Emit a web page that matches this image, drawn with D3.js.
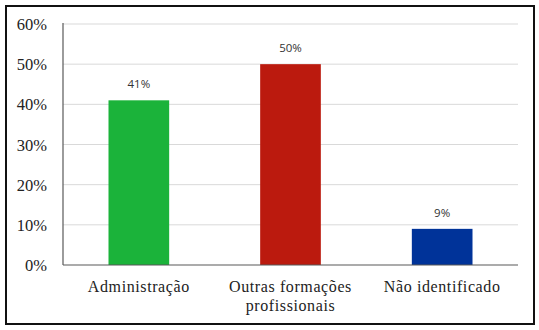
<!DOCTYPE html>
<html><head><meta charset="utf-8">
<script src="https://cdn.jsdelivr.net/npm/d3@7"></script>
</head><body style="margin:0">
<script>
const categories = [["Administração"], ["Outras formações", "profissionais"], ["Não identificado"]];
const values = [41, 50, 9];
const colors = ["#1bb33a", "#bb1a0e", "#003399"];
const yTicks = [0, 10, 20, 30, 40, 50, 60];

const SERIF_FONT = "Liberation Serif";
const SANS_FONT = "Open Sans";
const svg = d3.select("body").append("svg").attr("width", 539).attr("height", 330);
svg.append("rect").attr("x", 6).attr("y", 6).attr("width", 528).attr("height", 318)
  .attr("fill", "#fff").attr("stroke", "#111").attr("stroke-width", 2);

const pLeft = 63, pRight = 518, pTop = 24, pBottom = 265;
const xScale = d3.scaleBand().domain(d3.range(values.length)).range([pLeft, pRight]).paddingInner(0.6).paddingOuter(0.3);
const yScale = d3.scaleLinear().domain([0, 60]).range([pBottom, pTop]);

svg.append("g").selectAll("line").data(yTicks.filter(d => d > 0)).join("line")
  .attr("x1", pLeft).attr("x2", pRight).attr("y1", d => yScale(d)).attr("y2", d => yScale(d))
  .attr("stroke", "#d9d9d9").attr("stroke-width", 1);

svg.append("g").selectAll("text").data(yTicks).join("text")
  .style("font-family", `"${SERIF_FONT}"`)
  .attr("x", 47).attr("y", d => yScale(d) + 6).attr("text-anchor", "end")
  .attr("font-size", 16.5).attr("fill", "#222")
  .text(d => d + "%");

svg.append("g").selectAll("rect").data(values).join("rect")
  .attr("x", (d, i) => xScale(i)).attr("width", xScale.bandwidth())
  .attr("y", d => yScale(d)).attr("height", d => yScale(0) - yScale(d))
  .attr("fill", (d, i) => colors[i]);

svg.append("g").selectAll("text").data(values).join("text")
  .style("font-family", `"${SANS_FONT}"`)
  .attr("x", (d, i) => xScale(i) + xScale.bandwidth() / 2).attr("y", d => yScale(d) - 12)
  .attr("text-anchor", "middle")
  .attr("font-size", 11.5).attr("fill", "#333").text(d => d + "%");

svg.append("line").attr("x1", pLeft).attr("x2", pLeft).attr("y1", pTop - 1).attr("y2", pBottom)
  .attr("stroke", "#595959").attr("stroke-width", 1.2);
svg.append("line").attr("x1", pLeft).attr("x2", pRight).attr("y1", pBottom).attr("y2", pBottom)
  .attr("stroke", "#595959").attr("stroke-width", 1.2);

categories.forEach((lines, i) => {
  lines.forEach((line, j) => {
    svg.append("text")
      .style("font-family", `"${SERIF_FONT}"`).style("letter-spacing", "0.6px")
      .attr("text-anchor", "middle").attr("font-size", 16).attr("fill", "#222")
      .attr("x", xScale(i) + xScale.bandwidth() / 2).attr("y", 292 + j * 19)
      .text(line);
  });
});
</script>
</body></html>
